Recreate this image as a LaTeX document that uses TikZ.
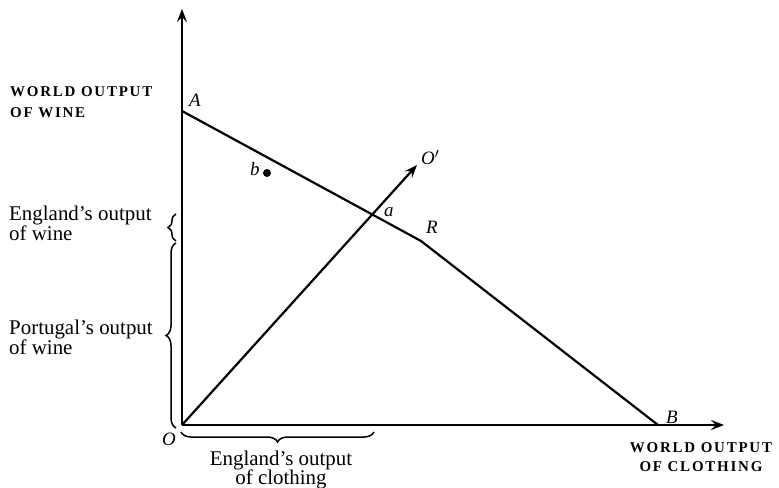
\documentclass[tikz,border=0pt]{standalone}
\usepackage{fontspec}
\setmainfont{Liberation Serif}
\newfontfamily\capsfont[LetterSpace=12]{Liberation Serif}
\usetikzlibrary{arrows.meta,decorations.pathreplacing}
\begin{document}
\begin{tikzpicture}[x=1bp,y=-1bp,
  axis/.style={line width=2.2bp,-{Stealth[length=13bp,width=10bp,inset=5bp]}},
  curve/.style={line width=2.2bp},
  brc/.style={line width=1.5bp,decorate,decoration={brace,amplitude=8bp}},
  txt/.style={font=\fontsize{21}{21}\selectfont,inner sep=0pt},
  capstyle/.style={font=\capsfont\bfseries\fontsize{15}{15}\selectfont,inner sep=0pt},
  lbl/.style={font=\fontsize{19}{19}\selectfont\itshape,inner sep=0pt}]
\useasboundingbox (0,0) rectangle (779,488);
\coordinate (O) at (182,425);
\coordinate (Ytop) at (182,9);
\coordinate (Xend) at (724,425);
\coordinate (A) at (182,111);
\coordinate (R) at (421,241);
\coordinate (B) at (658,425);
\coordinate (Op) at (417,165);
\draw[axis] (O) -- (Ytop);
\draw[axis] (O) -- (Xend);
\draw[curve,line join=round] (A) -- (R) -- (B);
\draw[axis] (O) -- (Op);
\fill (267,173) circle (4bp);
% braces
\coordinate (ew1) at (176,241);
\coordinate (ew2) at (176,214);
\coordinate (pw1) at (176,428);
\coordinate (pw2) at (176,243);
\coordinate (ec1) at (374,432);
\coordinate (ec2) at (181,432);
\draw[brc] (ew1) -- (ew2);
\draw[brc,decoration={amplitude=10bp}] (pw1) -- (pw2);
\draw[brc,decoration={amplitude=10bp}] (ec1) -- (ec2);
% labels
\node[capstyle,anchor=base west] (wow1) at (10,97) {WORLD OUTPUT};
\node[capstyle,anchor=base west] (wow2) at (10,118) {OF WINE};
\node[capstyle,anchor=base] (woc1) at (701,452) {WORLD OUTPUT};
\node[capstyle,anchor=base] (woc2) at (701,471) {OF CLOTHING};
\node[txt,anchor=base west] (eow1) at (9,221) {England’s output};
\node[txt,anchor=base west] (eow2) at (9,241) {of wine};
\node[txt,anchor=base west] (pow1) at (9,334) {Portugal’s output};
\node[txt,anchor=base west] (pow2) at (9,354) {of wine};
\node[txt,anchor=base] (eoc1) at (281,465) {England’s output};
\node[txt,anchor=base] (eoc2) at (281,484) {of clothing};
\node[lbl,anchor=base west] (lA) at (189,107) {A};
\node[lbl,anchor=base west] (la) at (384,217) {a};
\node[lbl,anchor=base west] (lb) at (250,176) {b};
\node[lbl,anchor=base west] (lOp) at (421,165) {O$'$};
\node[lbl,anchor=base west] (lR) at (426,234) {R};
\node[lbl,anchor=base west] (lB) at (666,423) {B};
\node[lbl,anchor=base west] (lO) at (162,445) {O};
\end{tikzpicture}
\end{document}
